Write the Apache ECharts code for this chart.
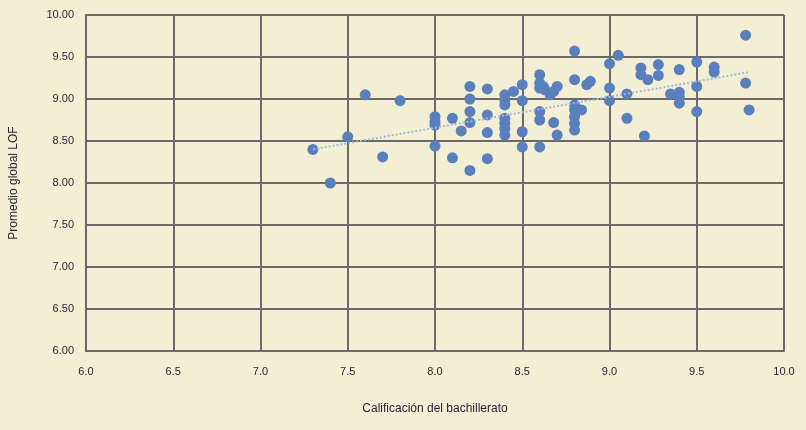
<!DOCTYPE html>
<html>
<head>
<meta charset="utf-8">
<script src="https://cdn.jsdelivr.net/npm/echarts@6/dist/echarts.min.js"></script>
<style>
  html, body { margin: 0; padding: 0; background: #f3efd5; }
  #chart { width: 806px; height: 430px; }
</style>
</head>
<body>
<div id="chart"></div>
<script>
// Calificación del bachillerato (x) vs Promedio global LOF (y)
const gradeX = [
  7.3, 7.4, 7.5, 7.6, 7.7, 7.8,
  8.0, 8.0, 8.0, 8.0, 8.1, 8.1, 8.15,
  8.2, 8.2, 8.2, 8.2, 8.2,
  8.3, 8.3, 8.3, 8.3,
  8.4, 8.4, 8.4, 8.4, 8.4, 8.4, 8.4, 8.45,
  8.5, 8.5, 8.5, 8.5,
  8.6, 8.6, 8.6, 8.62, 8.63, 8.6, 8.6, 8.6,
  8.66, 8.68, 8.7, 8.68, 8.7,
  8.8, 8.8, 8.8, 8.8, 8.8, 8.8, 8.8, 8.84, 8.87, 8.89,
  9.0, 9.0, 9.0, 9.05, 9.1, 9.1,
  9.18, 9.18, 9.22, 9.2, 9.28, 9.28,
  9.35, 9.4, 9.4, 9.4, 9.4,
  9.5, 9.5, 9.5, 9.6, 9.6,
  9.78, 9.78, 9.8
];
const lofY = [
  8.40, 8.00, 8.55, 9.05, 8.31, 8.98,
  8.79, 8.73, 8.69, 8.44, 8.77, 8.30, 8.62,
  9.15, 9.00, 8.85, 8.72, 8.15,
  9.12, 8.81, 8.60, 8.29,
  9.05, 8.99, 8.93, 8.77, 8.71, 8.65, 8.57, 9.09,
  9.17, 8.98, 8.61, 8.43,
  9.29, 9.19, 9.13, 9.15, 9.11, 8.85, 8.75, 8.43,
  9.05, 9.09, 9.15, 8.72, 8.57,
  9.57, 9.23, 8.93, 8.87, 8.79, 8.71, 8.63, 8.87, 9.17, 9.21,
  9.42, 9.13, 8.98, 9.52, 9.06, 8.77,
  9.37, 9.29, 9.23, 8.56, 9.41, 9.28,
  9.06, 9.35, 9.08, 9.03, 8.95,
  9.44, 9.15, 8.85, 9.38, 9.32,
  9.76, 9.19, 8.87
];
// dotted trend line end points
const trendX = [7.3, 9.8];
const trendY = [8.40, 9.32];

const points = gradeX.map((x, i) => [x, lofY[i]]);
const trend = trendX.map((x, i) => [x, trendY[i]]);

const textColor = '#262635';
const gridColor = '#6a6a6a';

const chart = echarts.init(document.getElementById('chart'));
chart.setOption({
  backgroundColor: '#f3efd5',
  animation: false,
  textStyle: { fontFamily: 'Liberation Sans, Arial, sans-serif' },
  grid: { left: 85, right: 22, top: 15, bottom: 79 },
  xAxis: {
    type: 'value',
    min: 6, max: 10, interval: 0.5,
    name: 'Calificación del bachillerato',
    nameLocation: 'middle',
    nameGap: 52,
    nameTextStyle: { color: textColor, fontSize: 12 },
    axisLine: { show: true, lineStyle: { color: gridColor, width: 2 } },
    axisTick: { show: false },
    axisLabel: {
      color: textColor, fontSize: 11, margin: 15,
      formatter: v => v.toFixed(1)
    },
    splitLine: { show: true, lineStyle: { color: gridColor, width: 2 } }
  },
  yAxis: {
    type: 'value',
    min: 6, max: 10, interval: 0.5,
    name: 'Promedio global LOF',
    nameLocation: 'middle',
    nameGap: 66,
    nameTextStyle: { color: textColor, fontSize: 12 },
    axisLine: { show: true, lineStyle: { color: gridColor, width: 2 } },
    axisTick: { show: false },
    axisLabel: {
      color: textColor, fontSize: 11, margin: 12,
      formatter: v => v.toFixed(2)
    },
    splitLine: { show: true, lineStyle: { color: gridColor, width: 2 } }
  },
  series: [
    {
      type: 'scatter',
      data: points,
      symbolSize: 11,
      itemStyle: { color: '#5a7fbd', opacity: 1 },
      z: 3
    },
    {
      type: 'line',
      data: trend,
      symbol: 'none',
      lineStyle: { color: '#a3b6d6', width: 2, type: [2, 2] },
      z: 4
    }
  ]
});
</script>
</body>
</html>
